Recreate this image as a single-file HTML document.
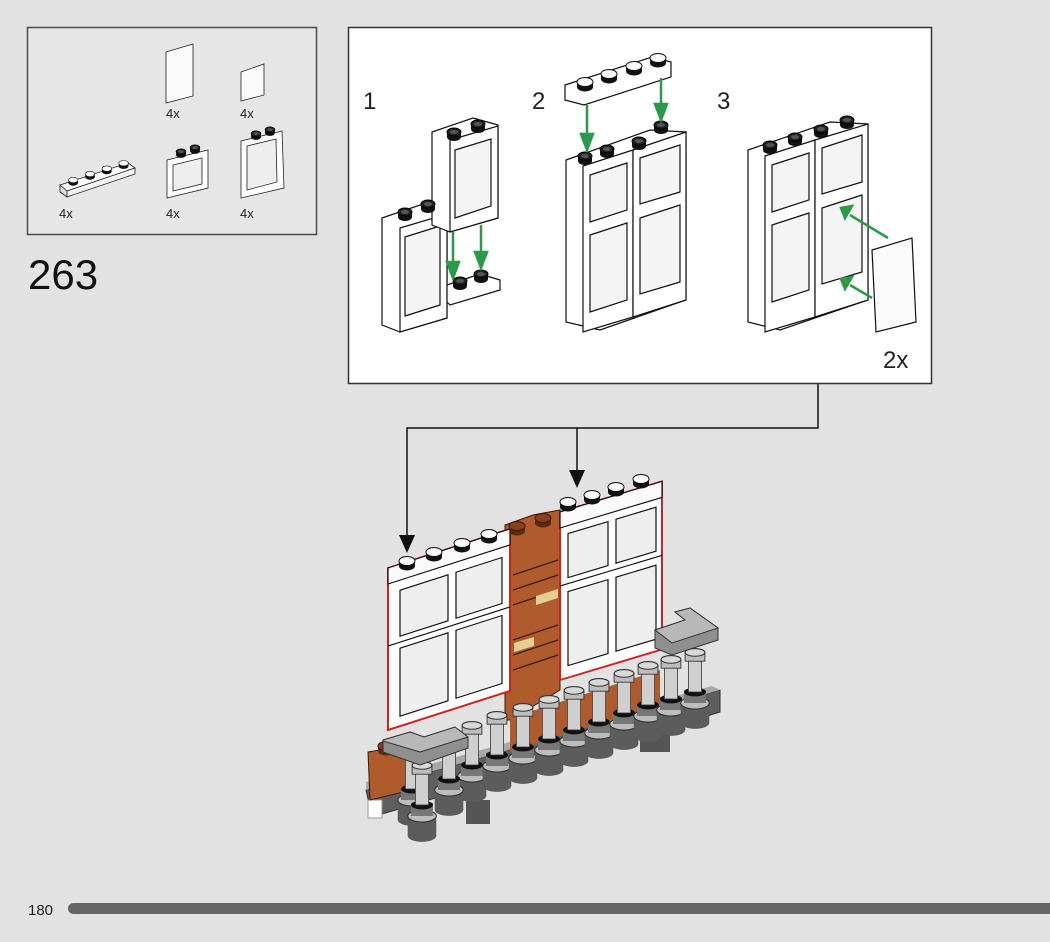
<!DOCTYPE html>
<html><head><style>
html,body{margin:0;padding:0;background:#e2e2e2;}
svg{display:block;font-family:"Liberation Sans",sans-serif;}
</style></head><body>
<svg width="1050" height="942" viewBox="0 0 1050 942" xmlns="http://www.w3.org/2000/svg">
<defs>
<g id="stud"><ellipse cx="0" cy="3" rx="7" ry="4" fill="#111"/><rect x="-7" y="-2" width="14" height="5" fill="#111"/><ellipse cx="0" cy="-2" rx="7" ry="4" fill="#222" stroke="#000"/><ellipse cx="0" cy="-2" rx="4" ry="2" fill="#555"/></g>
<g id="wstud"><ellipse cx="0" cy="3" rx="8" ry="4.5" fill="#111"/><rect x="-8" y="-2" width="16" height="5" fill="#111"/><ellipse cx="0" cy="-2" rx="8" ry="4.5" fill="#fafafa" stroke="#111"/></g>
<g id="bstud"><ellipse cx="0" cy="3" rx="8" ry="4.5" fill="#5a2a10"/><rect x="-8" y="-2" width="16" height="5" fill="#5a2a10"/><ellipse cx="0" cy="-2" rx="8" ry="4.5" fill="#8a3f1a" stroke="#3a1a08"/></g>
<g id="bal0">
<rect x="-13" y="40" width="26" height="18" fill="#5c5c5c"/>
<ellipse cx="0" cy="58" rx="13" ry="5.5" fill="#5c5c5c"/>
<ellipse cx="0" cy="40" rx="13" ry="5.5" fill="#bdbdbd" stroke="#333"/>
<rect x="-10" y="28" width="20" height="12" fill="#777"/>
<ellipse cx="0" cy="30" rx="10" ry="4" fill="#111"/>
<rect x="-6" y="0" width="12" height="30" fill="#cfcfcf" stroke="#333" stroke-width="0.7"/>
<rect x="-9" y="-6" width="18" height="8" fill="#bdbdbd" stroke="#333" stroke-width="0.8"/>
<ellipse cx="0" cy="-6" rx="9" ry="3.5" fill="#d8d8d8" stroke="#333"/>
</g>
<g id="bal"><use href="#bal0" transform="translate(0,-6) scale(1.1)"/></g>
</defs>

<!-- parts box -->
<rect x="27.5" y="27.5" width="289" height="207" fill="#e6e6e6" stroke="#4a4a4a" stroke-width="1.5"/>
<g stroke="#222" stroke-width="0.8">
<polygon points="166,52 193,44 193,96 166,103" fill="#fafafa"/>
<polygon points="241,72 264,64 264,95 241,101" fill="#fafafa"/>
<polygon points="60,185 128,163 135,168 67,191" fill="#fff"/>
<polygon points="60,185 67,191 67,197 60,192" fill="#ddd"/>
<polygon points="67,191 135,168 135,174 67,197" fill="#f2f2f2"/>
<polygon points="167,160 208,150 208,188 167,198" fill="#fff"/>
<polygon points="173,165 202,158 202,184 173,191" fill="#eee"/>
<polygon points="241,141 282,131 284,188 241,198" fill="#fff"/>
<polygon points="247,146 276,139 277,182 247,190" fill="#eee"/>
</g>
<use href="#stud" transform="translate(181,153) scale(0.7)"/>
<use href="#stud" transform="translate(195,149) scale(0.7)"/>
<use href="#stud" transform="translate(256,135) scale(0.7)"/>
<use href="#stud" transform="translate(270,131) scale(0.7)"/>
<g transform="scale(0.6)">
<use href="#wstud" x="122" y="302"/><use href="#wstud" x="150" y="292"/><use href="#wstud" x="178" y="283"/><use href="#wstud" x="206" y="274"/>
</g>
<g font-size="13" fill="#222">
<text x="166" y="118">4x</text><text x="240" y="118">4x</text>
<text x="59" y="218">4x</text><text x="166" y="218">4x</text><text x="240" y="218">4x</text>
</g>
<text x="28" y="289" font-size="42" fill="#111">263</text>

<!-- main instruction box -->
<rect x="348.5" y="27.5" width="583" height="356" fill="#fff" stroke="#333" stroke-width="1.5"/>
<g font-size="24" fill="#222"><text x="363" y="109">1</text><text x="532" y="109">2</text><text x="717" y="109">3</text><text x="883" y="368">2x</text></g>

<g stroke="#111" stroke-width="1.2" fill="#fff">
<polygon points="382,218 420,205 447,212 447,318 400,332 382,325"/>
<polygon points="400,228 447,214 447,318 400,332"/>
<polygon points="405,237 440,226 440,305 405,316" fill="#f4f4f4"/>
<polygon points="432,132 473,118 498,125 498,218 450,232 432,225"/>
<polygon points="450,140 498,126 498,218 450,232"/>
<polygon points="455,150 491,139 491,206 455,218" fill="#f4f4f4"/>
<polygon points="447,285 480,274 500,280 500,290 450,305 447,302"/>
<polygon points="566,160 650,130 686,132 686,300 600,330 566,322"/>
<polygon points="583,166 633,150 633,317 583,332"/>
<polygon points="633,150 686,132 686,300 633,317"/>
<polygon points="590,175 627,163 627,210 590,222" fill="#f4f4f4"/>
<polygon points="640,158 680,145 680,192 640,204" fill="#f4f4f4"/>
<polygon points="590,235 627,223 627,300 590,312" fill="#f4f4f4"/>
<polygon points="640,218 680,205 680,282 640,294" fill="#f4f4f4"/>
<polygon points="565,85 652,57 671,62 671,77 584,105 565,100"/>
<polygon points="748,150 830,122 868,124 868,300 780,330 748,322"/>
<polygon points="765,156 815,140 815,317 765,332"/>
<polygon points="815,140 868,124 868,300 815,317"/>
<polygon points="772,165 809,153 809,200 772,212" fill="#f4f4f4"/>
<polygon points="822,148 862,135 862,182 822,194" fill="#f4f4f4"/>
<polygon points="772,225 809,213 809,290 772,302" fill="#f4f4f4"/>
<polygon points="822,208 862,195 862,272 822,284" fill="#f4f4f4"/>
<polygon points="872,250 912,238 916,322 876,332" fill="#fafafa"/>
</g>
<use href="#stud" x="405" y="214"/><use href="#stud" x="428" y="206"/>
<use href="#stud" x="454" y="134"/><use href="#stud" x="478" y="126"/>
<use href="#stud" x="460" y="283"/><use href="#stud" x="481" y="276"/>
<use href="#stud" x="585" y="158"/><use href="#stud" x="607" y="151"/><use href="#stud" x="639" y="143"/><use href="#stud" x="661" y="127"/>
<use href="#wstud" x="585" y="84"/><use href="#wstud" x="609" y="76"/><use href="#wstud" x="634" y="68"/><use href="#wstud" x="658" y="60"/>
<use href="#stud" x="770" y="147"/><use href="#stud" x="795" y="139"/><use href="#stud" x="821" y="131"/><use href="#stud" x="847" y="122"/>
<g stroke="#2a9a48" stroke-width="2.5" fill="#2a9a48">
<line x1="453" y1="232" x2="453" y2="268"/><polygon points="447,262 459,262 453,278"/>
<line x1="481" y1="225" x2="481" y2="258"/><polygon points="475,252 487,252 481,268"/>
<line x1="587" y1="105" x2="587" y2="140"/><polygon points="581,134 593,134 587,150"/>
<line x1="661" y1="78" x2="661" y2="110"/><polygon points="655,104 667,104 661,120"/>
<line x1="888" y1="238" x2="850" y2="215"/><polygon points="852,206 845,218 841,208"/>
<line x1="872" y1="298" x2="850" y2="285"/><polygon points="852,277 845,289 841,279"/>
</g>

<!-- connectors -->
<g stroke="#111" stroke-width="1.5" fill="none">
<polyline points="818,384 818,428 407,428 407,540"/>
<line x1="577" y1="428" x2="577" y2="476"/>
</g>
<polygon points="399,535 415,535 407,553" fill="#111"/>
<polygon points="569,470 585,470 577,488" fill="#111"/>

<!-- bottom model -->
<polygon points="366,790 640,713 720,690 720,712 640,737 472,787 372,817" fill="#5f5f5f" stroke="#333"/>
<polygon points="366,790 640,713 720,690 712,686 632,708 366,782" fill="#a8a8a8"/>
<rect x="466" y="800" width="24" height="24" fill="#555"/>
<rect x="640" y="728" width="30" height="24" fill="#555"/>
<rect x="368" y="800" width="14" height="18" fill="#fff" stroke="#999"/>
<polygon points="505,525 533,515 560,510 560,690 510,720 505,720" fill="#b05b2b" stroke="#3a1a08"/>
<g stroke="#3a1a08" stroke-width="1.2">
<line x1="513" y1="575" x2="558" y2="560"/><line x1="513" y1="590" x2="558" y2="575"/><line x1="513" y1="605" x2="558" y2="590"/>
<line x1="513" y1="640" x2="558" y2="625"/><line x1="513" y1="655" x2="558" y2="640"/><line x1="513" y1="670" x2="558" y2="655"/>
</g>
<polygon points="536,596 558,589 558,598 536,605" fill="#e6cf8e"/>
<polygon points="514,643 534,637 534,646 514,652" fill="#e6cf8e"/>
<use href="#bstud" x="517" y="528"/><use href="#bstud" x="543" y="520"/>
<g transform="matrix(1,-0.32,0,1,388,568)" stroke="#111" stroke-width="1.2">
<rect x="0" y="0" width="122" height="162" fill="#fff" stroke="#d02020" stroke-width="2"/>
<rect x="0" y="0" width="122" height="16" fill="#fafafa"/>
<rect x="12" y="26" width="48" height="46" fill="#eeeeee"/><rect x="68" y="26" width="46" height="46" fill="#eeeeee"/>
<rect x="12" y="84" width="48" height="68" fill="#eeeeee"/><rect x="68" y="84" width="46" height="68" fill="#eeeeee"/>
<line x1="0" y1="78" x2="122" y2="78"/>
</g>
<use href="#wstud" x="407" y="563"/><use href="#wstud" x="434" y="554"/><use href="#wstud" x="462" y="545"/><use href="#wstud" x="489" y="536"/>
<g transform="matrix(1,-0.3,0,1,560,512)" stroke="#111" stroke-width="1.2">
<rect x="0" y="0" width="102" height="168" fill="#fff" stroke="#d02020" stroke-width="2"/>
<rect x="0" y="0" width="102" height="16" fill="#fafafa"/>
<rect x="8" y="24" width="40" height="44" fill="#eeeeee"/><rect x="56" y="24" width="40" height="44" fill="#eeeeee"/>
<rect x="8" y="82" width="40" height="74" fill="#eeeeee"/><rect x="56" y="82" width="40" height="74" fill="#eeeeee"/>
<line x1="0" y1="74" x2="102" y2="74"/>
</g>
<use href="#wstud" x="568" y="504"/><use href="#wstud" x="592" y="497"/><use href="#wstud" x="616" y="489"/><use href="#wstud" x="641" y="481"/>
<polygon points="510,718 660,670 660,705 510,752" fill="#b05b2b"/>
<polygon points="368,752 410,745 412,790 370,800" fill="#b05b2b" stroke="#3a1a08"/>
<use href="#bstud" x="386" y="748"/>
<use href="#bal" x="472" y="738"/><use href="#bal" x="497" y="728"/><use href="#bal" x="523" y="720"/><use href="#bal" x="549" y="712"/>
<use href="#bal" x="574" y="703"/><use href="#bal" x="599" y="695"/><use href="#bal" x="624" y="686"/><use href="#bal" x="648" y="678"/>
<use href="#bal" x="671" y="672"/><use href="#bal" x="695" y="665"/>
<use href="#bal" x="412" y="762"/><use href="#bal" x="449" y="752"/><use href="#bal" x="422" y="778"/>
<!-- caps -->
<polygon points="383,740 410,732 424,737 455,727 468,737 468,748 420,765 383,752" fill="#8f8f8f" stroke="#333"/>
<polygon points="383,740 410,732 424,737 455,727 468,737 420,752 383,741" fill="#b8b8b8" stroke="#333"/>
<polygon points="655,630 685,620 675,612 690,608 718,628 718,640 672,655 655,648" fill="#8f8f8f" stroke="#333"/>
<polygon points="655,630 685,620 675,612 690,608 718,628 672,643" fill="#b8b8b8" stroke="#333"/>

<!-- footer -->
<text x="28" y="915" font-size="15" fill="#222">180</text>
<rect x="68" y="903" width="990" height="11" rx="5.5" fill="#666"/>
</svg>
</body></html>
